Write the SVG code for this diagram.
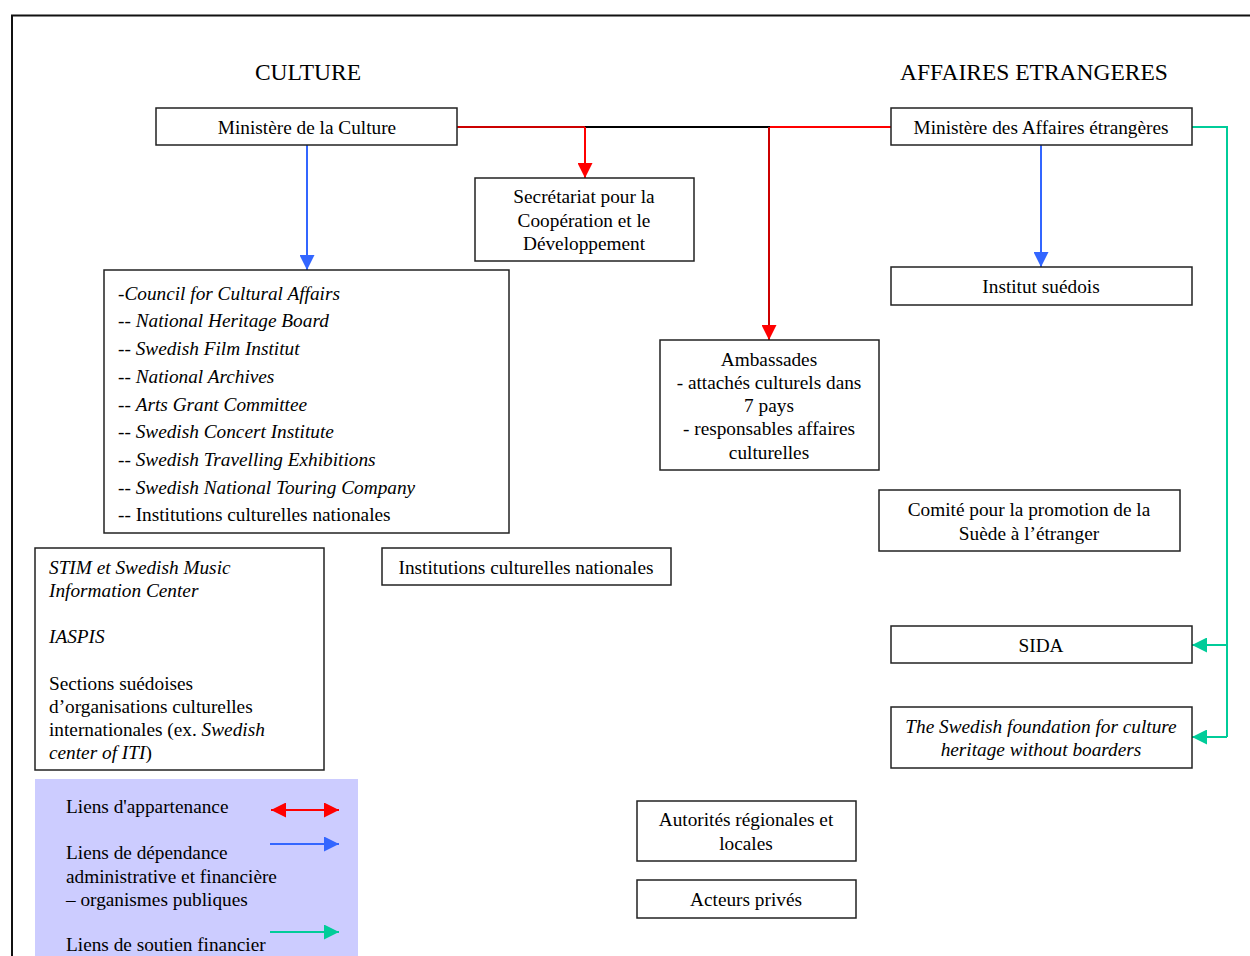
<svg xmlns="http://www.w3.org/2000/svg" width="1250" height="956" viewBox="0 0 1250 956">
<style>
text{font-family:"Liberation Serif","Times New Roman",serif;font-size:19.3px;fill:#000}
.t{font-size:23.5px}
.c{text-anchor:middle}
.i{font-style:italic}
.box{fill:#fff;stroke:#222;stroke-width:1.5}
.red{stroke:#ff0000;stroke-width:2;fill:none}
.dred{stroke:#cc0000;stroke-width:2;fill:none}
.blue{stroke:#3366ff;stroke-width:2;fill:none}
.green{stroke:#00cc99;stroke-width:2;fill:none}
</style>
<defs>
<marker id="ar" viewBox="0 0 10 10" refX="10" refY="5" markerWidth="15" markerHeight="15" markerUnits="userSpaceOnUse" orient="auto-start-reverse"><path d="M0,0 L10,5 L0,10 z" fill="#ff0000"/></marker>
<marker id="ab" viewBox="0 0 10 10" refX="10" refY="5" markerWidth="15" markerHeight="15" markerUnits="userSpaceOnUse" orient="auto"><path d="M0,0 L10,5 L0,10 z" fill="#3366ff"/></marker>
<marker id="ag" viewBox="0 0 10 10" refX="10" refY="5" markerWidth="15" markerHeight="15" markerUnits="userSpaceOnUse" orient="auto"><path d="M0,0 L10,5 L0,10 z" fill="#00cc99"/></marker>
</defs>
<rect width="1250" height="956" fill="#fff"/>
<path d="M12,956 V15.5 H1250" fill="none" stroke="#111" stroke-width="2"/>

<text class="t c" x="308" y="80">CULTURE</text>
<text class="t c" x="1034" y="80">AFFAIRES ETRANGERES</text>

<g id="connectors">
<path class="dred" d="M457,127 H585"/>
<path d="M585,127 H770" stroke="#000" stroke-width="2" fill="none"/>
<path class="red" d="M770,127 H891"/>
<path class="red" d="M585,127 V178" marker-end="url(#ar)"/>
<path class="dred" d="M769,127 V340" marker-end="url(#ar)"/>
<path class="blue" d="M307,145 V270" marker-end="url(#ab)"/>
<path class="blue" d="M1041,145 V267" marker-end="url(#ab)"/>
<path class="green" d="M1192,127 H1227 V737"/>
<path class="green" d="M1227,645 H1192" marker-end="url(#ag)"/>
<path class="green" d="M1227,737 H1192" marker-end="url(#ag)"/>
</g>

<g id="min-culture"><rect class="box" x="156" y="108" width="301" height="37"/><text class="c" x="307" y="134">Ministère de la Culture</text></g>
<g id="min-affaires"><rect class="box" x="891" y="108" width="301" height="37"/><text class="c" x="1041" y="134">Ministère des Affaires étrangères</text></g>
<g id="secretariat"><rect class="box" x="475" y="178" width="219" height="83"/>
<text class="c" x="584" y="203">Secrétariat pour la</text><text class="c" x="584" y="227">Coopération et le</text><text class="c" x="584" y="250">Développement</text></g>
<g id="council"><rect class="box" x="104" y="270" width="405" height="263"/>
<text class="i" x="118" y="300">-Council for Cultural Affairs</text>
<text x="118" y="327">-- <tspan class="i">National Heritage Board</tspan></text>
<text x="118" y="355">-- <tspan class="i">Swedish Film Institut</tspan></text>
<text x="118" y="383">-- <tspan class="i">National Archives</tspan></text>
<text x="118" y="411">-- <tspan class="i">Arts Grant Committee</tspan></text>
<text x="118" y="438">-- <tspan class="i">Swedish Concert Institute</tspan></text>
<text x="118" y="466">-- <tspan class="i">Swedish Travelling Exhibitions</tspan></text>
<text x="118" y="494">-- <tspan class="i">Swedish National Touring Company</tspan></text>
<text x="118" y="521">-- Institutions culturelles nationales</text></g>
<g id="institut-suedois"><rect class="box" x="891" y="267" width="301" height="38"/><text class="c" x="1041" y="293">Institut suédois</text></g>
<g id="ambassades"><rect class="box" x="660" y="340" width="219" height="130"/>
<text class="c" x="769" y="366">Ambassades</text><text class="c" x="769" y="389">- attachés culturels dans</text><text class="c" x="769" y="412">7 pays</text><text class="c" x="769" y="435">- responsables affaires</text><text class="c" x="769" y="459">culturelles</text></g>
<g id="comite"><rect class="box" x="879" y="490" width="301" height="61"/>
<text class="c" x="1029" y="516">Comité pour la promotion de la</text><text class="c" x="1029" y="540">Suède à l’étranger</text></g>
<g id="institutions"><rect class="box" x="382" y="548" width="289" height="37"/><text class="c" x="526" y="574">Institutions culturelles nationales</text></g>
<g id="stim"><rect class="box" x="35" y="548" width="289" height="222"/>
<text class="i" x="49" y="574">STIM et Swedish Music</text>
<text class="i" x="49" y="597">Information Center</text>
<text class="i" x="49" y="643">IASPIS</text>
<text x="49" y="690">Sections suédoises</text>
<text x="49" y="713">d’organisations culturelles</text>
<text x="49" y="736">internationales (ex. <tspan class="i">Swedish</tspan></text>
<text x="49" y="759"><tspan class="i">center of ITI</tspan>)</text></g>
<g id="sida"><rect class="box" x="891" y="626" width="301" height="37"/><text class="c" x="1041" y="652">SIDA</text></g>
<g id="foundation"><rect class="box" x="891" y="707" width="301" height="61"/>
<text class="c i" x="1041" y="733">The Swedish foundation for culture</text><text class="c i" x="1041" y="756">heritage without boarders</text></g>
<g id="autorites"><rect class="box" x="637" y="801" width="219" height="60"/>
<text class="c" x="746" y="826">Autorités régionales et</text><text class="c" x="746" y="850">locales</text></g>
<g id="acteurs"><rect class="box" x="637" y="880" width="219" height="38"/><text class="c" x="746" y="906">Acteurs privés</text></g>

<g id="legend">
<rect x="35" y="779" width="323" height="177" fill="#ccccff"/>
<text x="66" y="813">Liens d'appartenance</text>
<text x="66" y="859">Liens de dépendance</text>
<text x="66" y="883">administrative et financière</text>
<text x="66" y="906">– organismes publiques</text>
<text x="66" y="951">Liens de soutien financier</text>
<path class="red" d="M271,810 H339" marker-start="url(#ar)" marker-end="url(#ar)"/>
<path class="blue" d="M270,844 H339" marker-end="url(#ab)"/>
<path class="green" d="M270,932 H339" marker-end="url(#ag)"/>
</g>
</svg>
